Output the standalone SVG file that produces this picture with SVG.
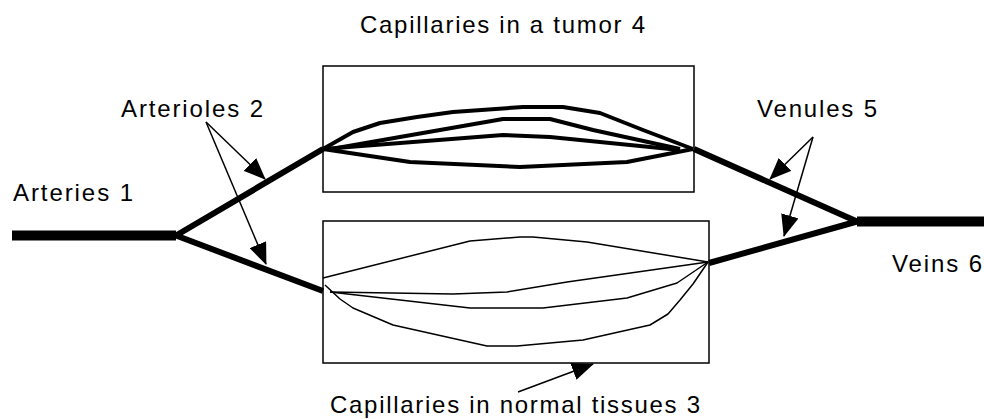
<svg xmlns="http://www.w3.org/2000/svg" width="984" height="419" viewBox="0 0 984 419">
<style>
.lbl{font-family:"Liberation Sans",Arial,sans-serif;font-size:24px;fill:#000}
.box{fill:none;stroke:#000;stroke-width:1.5}
.vessel{fill:none;stroke:#000;stroke-linecap:butt;stroke-linejoin:round}
.tcap{fill:none;stroke:#000;stroke-width:4;stroke-linejoin:round}
.ncap{fill:none;stroke:#000;stroke-width:1.5;stroke-linejoin:round}
.lead{fill:none;stroke:#000;stroke-width:1.5}
</style>
<defs>
<marker id="ah" markerUnits="userSpaceOnUse" markerWidth="22" markerHeight="18" viewBox="0 0 22 18" refX="21" refY="9" orient="auto">
<path d="M0,0 L22,9 L0,18 Z" fill="#000"/>
</marker>
</defs>
<rect width="984" height="419" fill="#fff"/>
<g id="tumor">
<rect class="box" x="323" y="66" width="371" height="126"/>
<polyline class="tcap" points="323,149 353,132 380,123 417,117 453,112 523,107 563,107 600,113 643,130 693,149"/>
<polyline class="tcap" points="337,148 503,119 550,119 593,130 680,149"/>
<polyline class="tcap" points="323,149 503,135 550,137 680,150"/>
<polyline class="tcap" points="323,149 410,162 520,167 627,162 693,149"/>
</g>
<g id="normal">
<rect class="box" x="323" y="221" width="386" height="142"/>
<polyline class="ncap" points="323,278 470,241 520,237 533,237 587,242 708,262"/>
<polyline class="ncap" points="330,292 453,294 507,292 567,282 708,262"/>
<polyline class="ncap" points="330,292 470,308 543,308 627,298 677,283 708,262"/>
<polyline class="ncap" points="325,285 340,299 353,308 393,325 487,346 517,346 583,340 650,325 668,314 680,300 693,284 708,262"/>
</g>
<g id="connectors">
<line class="vessel" x1="12" y1="235.5" x2="176" y2="235.5" stroke-width="10"/>
<polyline class="vessel" points="323,149 176,235.5 323,291" stroke-width="6"/>
<polyline class="vessel" points="694,149 857,221.5 709,263" stroke-width="6"/>
<line class="vessel" x1="857" y1="221.5" x2="984" y2="221.5" stroke-width="10"/>
<line class="lead" x1="206" y1="122" x2="265" y2="179" marker-end="url(#ah)"/>
<line class="lead" x1="206" y1="122" x2="266" y2="264" marker-end="url(#ah)"/>
<line class="lead" x1="813" y1="137" x2="770" y2="179" marker-end="url(#ah)"/>
<line class="lead" x1="813" y1="137" x2="784" y2="236" marker-end="url(#ah)"/>
<line class="lead" x1="518" y1="392" x2="593" y2="364" marker-end="url(#ah)"/>
</g>
<g id="labels">
<text class="lbl" x="360" y="33" textLength="285" lengthAdjust="spacing">Capillaries in a tumor 4</text>
<text class="lbl" x="121" y="117" textLength="142" lengthAdjust="spacing">Arterioles 2</text>
<text class="lbl" x="13" y="201" textLength="120" lengthAdjust="spacing">Arteries 1</text>
<text class="lbl" x="757" y="117" textLength="120" lengthAdjust="spacing">Venules 5</text>
<text class="lbl" x="892" y="272" textLength="90" lengthAdjust="spacing">Veins 6</text>
<text class="lbl" x="330" y="413" textLength="370" lengthAdjust="spacing">Capillaries in normal tissues 3</text>
</g>
</svg>
